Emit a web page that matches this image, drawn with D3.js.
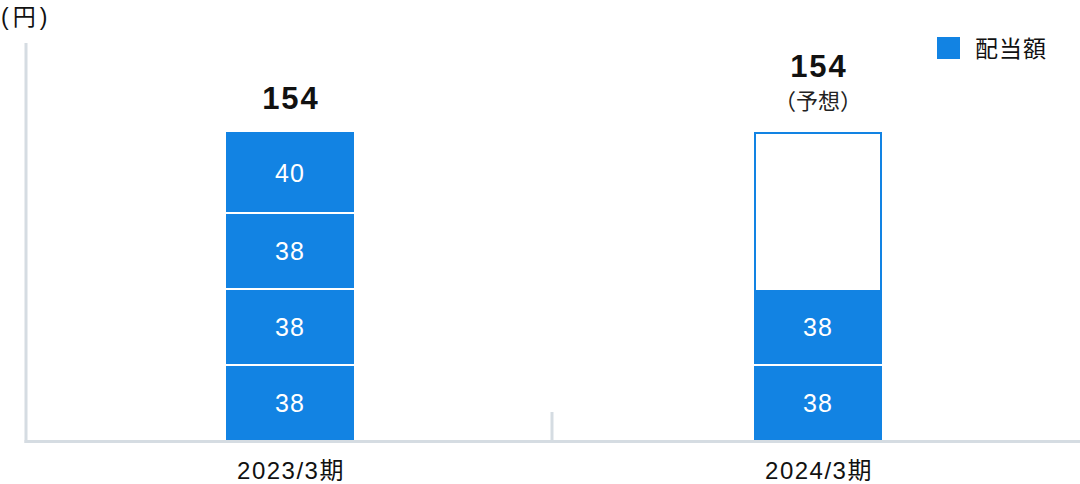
<!DOCTYPE html>
<html>
<head>
<meta charset="utf-8">
<script src="https://cdn.jsdelivr.net/npm/d3@7"></script>
<style>
    html, body { margin: 0; padding: 0; background: #fff; }
    svg text { font-family: "Liberation Sans", "Noto Sans CJK JP", sans-serif; }
</style>
</head>
<body>
<div id="chart"></div>
<script>
// periods on the x axis
var categories = ['2023/3期', '2024/3期'];
// quarterly dividends, bottom to top (null = not yet paid)
var dividendQ1 = [38, 38];
var dividendQ2 = [38, 38];
var dividendQ3 = [38, null];
var dividendQ4 = [40, null];
// annual totals and whether they are forecasts
var totals = [154, 154];
var isForecast = [false, true];
var unitLabel = '(円)';
var legendLabel = '配当額';
var forecastLabel = '（予想）';

var width = 1080;
var height = 484;
var blue = '#1283e3';
var axisGrey = '#d5dce2';

var svg = d3.select('#chart').append('svg')
    .attr('width', width)
    .attr('height', height);

var xScale = d3.scaleBand()
    .domain(categories)
    .range([26, 1082])
    .padding(0);

var yScale = d3.scaleLinear()
    .domain([0, 200])
    .range([440, 40]);

var barWidth = 128;
function barX(i) { return xScale(categories[i]) + xScale.bandwidth() / 2 - barWidth / 2; }

// axes
svg.append('line')
    .attr('x1', 26).attr('x2', 26)
    .attr('y1', 43).attr('y2', 443)
    .attr('stroke', axisGrey).attr('stroke-width', 3);
svg.append('line')
    .attr('x1', 24.5).attr('x2', width)
    .attr('y1', 441.5).attr('y2', 441.5)
    .attr('stroke', axisGrey).attr('stroke-width', 3);
// divider tick between periods
svg.append('line')
    .attr('x1', xScale(categories[1]) - 2).attr('x2', xScale(categories[1]) - 2)
    .attr('y1', 412).attr('y2', 441)
    .attr('stroke', axisGrey).attr('stroke-width', 3);

// stacked segments
var quarters = [dividendQ1, dividendQ2, dividendQ3, dividendQ4];
var segments = [];
var forecastTops = [];
categories.forEach(function(c, i) {
    var base = 0;
    quarters.forEach(function(q, k) {
        if (q[i] == null) return;
        segments.push({ i: i, k: k, y0: base, y1: base + q[i], value: q[i] });
        base += q[i];
    });
    // forecast remainder shown as outlined box
    if (isForecast[i] && base < totals[i]) {
        svg.append('rect')
            .attr('x', barX(i) + 1)
            .attr('y', yScale(totals[i]) + 1)
            .attr('width', barWidth - 2)
            .attr('height', yScale(base) - yScale(totals[i]))
            .attr('fill', '#fff')
            .attr('stroke', blue)
            .attr('stroke-width', 2);
        forecastTops.push({ i: i, v: base });
    }
});

svg.selectAll('.seg')
    .data(segments)
    .enter()
    .append('rect')
    .attr('class', 'seg')
    .attr('x', function(d) { return barX(d.i); })
    .attr('y', function(d) { return yScale(d.y1); })
    .attr('width', barWidth)
    .attr('height', function(d) { return yScale(d.y0) - yScale(d.y1); })
    .attr('fill', blue);

// white separators between filled segments
svg.selectAll('.sep')
    .data(segments.filter(function(d) { return d.y0 > 0; }))
    .enter()
    .append('rect')
    .attr('class', 'sep')
    .attr('x', function(d) { return barX(d.i); })
    .attr('y', function(d) { return yScale(d.y0); })
    .attr('width', barWidth)
    .attr('height', 2)
    .attr('fill', '#fff');

// gap under the forecast outline, keeping its side strokes
svg.selectAll('.fsep')
    .data(forecastTops)
    .enter()
    .append('rect')
    .attr('class', 'fsep')
    .attr('x', function(d) { return barX(d.i) + 2; })
    .attr('y', function(d) { return yScale(d.v); })
    .attr('width', barWidth - 4)
    .attr('height', 2)
    .attr('fill', '#fff');

svg.selectAll('.seg-label')
    .data(segments)
    .enter()
    .append('text')
    .attr('class', 'seg-label')
    .attr('x', function(d) { return xScale(categories[d.i]) + xScale.bandwidth() / 2; })
    .attr('y', function(d) { return (yScale(d.y0) + yScale(d.y1)) / 2 + 1; })
    .attr('dy', '0.35em')
    .attr('text-anchor', 'middle')
    .attr('fill', '#fff')
    .style('font-size', '25px')
    .style('letter-spacing', '1px')
    .text(function(d) { return d.value; });

// totals
totals.forEach(function(t, i) {
    var cx = xScale(categories[i]) + xScale.bandwidth() / 2;
    var ty = yScale(t) - 23;
    if (isForecast[i]) {
        svg.append('text')
            .attr('x', cx)
            .attr('y', ty)
            .attr('text-anchor', 'middle')
            .attr('fill', '#222')
            .style('font-size', '22px')
            .text(forecastLabel);
        ty -= 32;
    }
    svg.append('text')
        .attr('x', cx + 1)
        .attr('y', ty)
        .attr('text-anchor', 'middle')
        .attr('fill', '#111')
        .style('font-size', '31px')
        .style('font-weight', 'bold')
        .style('letter-spacing', '2px')
        .text(t);
});

// category labels
svg.selectAll('.cat')
    .data(categories)
    .enter()
    .append('text')
    .attr('class', 'cat')
    .attr('x', function(d) { return xScale(d) + xScale.bandwidth() / 2 + 1; })
    .attr('y', 479)
    .attr('text-anchor', 'middle')
    .attr('fill', '#111')
    .style('font-size', '24px')
    .style('letter-spacing', '1.5px')
    .text(function(d) { return d; });

// unit label
svg.append('text')
    .attr('x', 1)
    .attr('y', 25)
    .attr('fill', '#111')
    .style('font-size', '23px')
    .style('letter-spacing', '4px')
    .text(unitLabel);

// legend
svg.append('rect')
    .attr('x', 937).attr('y', 37)
    .attr('width', 23).attr('height', 22)
    .attr('fill', blue);
svg.append('text')
    .attr('x', 975)
    .attr('y', 57)
    .attr('fill', '#111')
    .style('font-size', '23px')
    .style('letter-spacing', '1px')
    .text(legendLabel);
</script>
</body>
</html>
